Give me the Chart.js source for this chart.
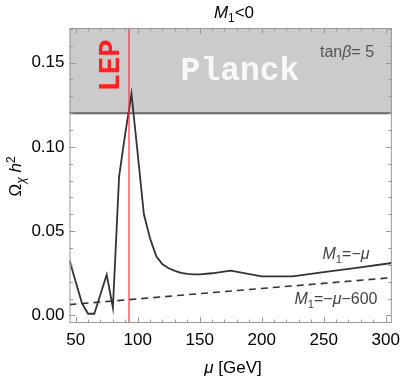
<!DOCTYPE html>
<html><head><meta charset="utf-8">
<script src="https://cdn.jsdelivr.net/npm/chart.js@4.4.1/dist/chart.umd.min.js"></script>
<style>html,body{margin:0;padding:0;background:#fff}#wrap{width:407px;height:378px;position:relative}</style>
</head><body><div id="wrap"><canvas id="c" width="407" height="378"></canvas></div>
<script>
// ---- data ----
const muSolid = [45,50,55,60,65,70,75,80,85,90,95,100,105,110,115,120,125,130,135,140,145,150,160,175,200,225,250,275,305];
const omegaSolid = [0.0327,0.020,0.0073,0.001,0.001,0.0126,0.0242,0.0046,0.0823,0.108,0.1315,0.096,0.060,0.0456,0.035,0.0303,0.028,0.0264,0.0252,0.0246,0.0244,0.0244,0.025,0.0266,0.0232,0.0232,0.0257,0.0281,0.0311];
const muDashed = [45,100,150,200,250,305];
const omegaDashed = [0.0064,0.0098,0.0129,0.0160,0.0190,0.0224];
const xTicks = [50,100,150,200,250,300];
const xMinorTicks = [60,70,80,90,110,120,130,140,160,170,180,190,210,220,230,240,260,270,280,290];
const yTicks = [0,0.05,0.10,0.15];
const yTickLabels = ['0.00','0.05','0.10','0.15'];
const yMinorTicks = [0.01,0.02,0.03,0.04,0.06,0.07,0.08,0.09,0.11,0.12,0.13,0.14,0.16,0.17];
const planckLimit = 0.12;
const lepBound = 93;

const SANS = '"Liberation Sans", Arial, sans-serif';
const MONO = '"Liberation Mono", "Courier New", monospace';

function drawRich(ctx, runs, x, y, align, size) {
  let total = 0;
  const parts = runs.map(r => {
    const s = r.shift ? size * 0.7 : size;
    const font = (r.italic ? 'italic ' : '') + s + 'px ' + SANS;
    ctx.font = font;
    const w = ctx.measureText(r.t).width;
    total += w;
    return {r, s, font, w};
  });
  let cx = align === 'center' ? x - total / 2 : (align === 'right' ? x - total : x);
  ctx.textAlign = 'left';
  ctx.textBaseline = 'alphabetic';
  parts.forEach(p => {
    ctx.font = p.font;
    let dy = 0;
    if (p.r.shift === 'sub') dy = size * 0.25;
    if (p.r.shift === 'sup') dy = -size * 0.38;
    ctx.fillText(p.r.t, cx, y + dy);
    cx += p.w;
  });
}

const decor = {
  id: 'decor',
  beforeDatasetsDraw(chart) {
    const {ctx, chartArea: a, scales: {x, y}} = chart;
    const yb = y.getPixelForValue(planckLimit);
    ctx.save();
    ctx.fillStyle = '#cbcbcc';
    ctx.fillRect(a.left, a.top, a.right - a.left, yb - a.top);
    ctx.strokeStyle = '#666666';
    ctx.lineWidth = 2;
    ctx.beginPath(); ctx.moveTo(a.left, yb); ctx.lineTo(a.right, yb); ctx.stroke();
    // Planck text
    ctx.fillStyle = '#f8f8f8';
    ctx.font = 'bold 33px ' + MONO;
    ctx.textAlign = 'center'; ctx.textBaseline = 'alphabetic';
    ctx.fillText('Planck', 240, 80);
    // tan beta
    ctx.fillStyle = '#555555';
    drawRich(ctx, [{t:'tan'},{t:'β', italic:true},{t:'= 5'}], 347, 57, 'center', 16);
    ctx.restore();
  },
  afterDatasetsDraw(chart) {
    const {ctx, chartArea: a, scales: {x, y}} = chart;
    ctx.save();
    // LEP line
    const xl = x.getPixelForValue(lepBound);
    ctx.strokeStyle = '#ff3030'; ctx.lineWidth = 1.2;
    ctx.beginPath(); ctx.moveTo(xl, a.top); ctx.lineTo(xl, a.bottom); ctx.stroke();
    // LEP text
    ctx.save();
    ctx.translate(112, 65.5); ctx.rotate(-Math.PI / 2);
    ctx.fillStyle = '#ff2020'; ctx.font = 'bold 29px ' + MONO;
    ctx.textAlign = 'center'; ctx.textBaseline = 'middle';
    ctx.fillText('LEP', 0, 0);
    ctx.restore();
    // series labels
    ctx.fillStyle = '#444444';
    drawRich(ctx, [{t:'M', italic:true},{t:'1', shift:'sub'},{t:'=−'},{t:'μ', italic:true}], 346, 259, 'center', 16);
    drawRich(ctx, [{t:'M', italic:true},{t:'1', shift:'sub'},{t:'=−'},{t:'μ', italic:true},{t:'−600'}], 336, 304, 'center', 16);
    // frame
    ctx.strokeStyle = '#999999'; ctx.lineWidth = 1;
    ctx.strokeRect(a.left + 0.5, a.top + 0.5, a.right - a.left - 1, a.bottom - a.top - 1);
    ctx.beginPath();
    const tick = (px, len, vertical) => {
      if (vertical) {
        ctx.moveTo(Math.round(px) + 0.5, a.bottom); ctx.lineTo(Math.round(px) + 0.5, a.bottom - len);
        ctx.moveTo(Math.round(px) + 0.5, a.top); ctx.lineTo(Math.round(px) + 0.5, a.top + len);
      } else {
        ctx.moveTo(a.left, Math.round(px) + 0.5); ctx.lineTo(a.left + len, Math.round(px) + 0.5);
        ctx.moveTo(a.right, Math.round(px) + 0.5); ctx.lineTo(a.right - len, Math.round(px) + 0.5);
      }
    };
    xTicks.forEach(v => tick(x.getPixelForValue(v), 6, true));
    xMinorTicks.forEach(v => tick(x.getPixelForValue(v), 3.5, true));
    yTicks.forEach(v => tick(y.getPixelForValue(v), 6, false));
    yMinorTicks.forEach(v => tick(y.getPixelForValue(v), 3.5, false));
    ctx.stroke();
    // titles
    ctx.fillStyle = '#000000';
    drawRich(ctx, [{t:'M', italic:true},{t:'1', shift:'sub'},{t:'<0'}], 234, 18, 'center', 17);
    drawRich(ctx, [{t:'μ', italic:true},{t:' [GeV]'}], 233, 373, 'center', 17);
    ctx.save();
    ctx.translate(21, 176.5); ctx.rotate(-Math.PI / 2);
    drawRich(ctx, [{t:'Ω'},{t:'χ', italic:true, shift:'sub'},{t:' '},{t:'h', italic:true},{t:'2', shift:'sup'}], 0, 0, 'center', 17);
    ctx.restore();
    ctx.restore();
  }
};

new Chart(document.getElementById('c'), {
  type: 'line',
  data: {
    datasets: [
      {data: muSolid.map((m, i) => ({x: m, y: omegaSolid[i]})), borderColor: '#333333', borderWidth: 1.8, pointRadius: 0, tension: 0, fill: false},
      {data: muDashed.map((m, i) => ({x: m, y: omegaDashed[i]})), borderColor: '#333333', borderWidth: 1.6, borderDash: [7, 5], pointRadius: 0, tension: 0, fill: false}
    ]
  },
  options: {
    responsive: false, animation: false, devicePixelRatio: 1,
    layout: {padding: {left: 0, right: 8.5, top: 28, bottom: 0}},
    plugins: {legend: {display: false}, tooltip: {enabled: false}, title: {display: false}},
    scales: {
      x: {
        type: 'linear', min: 45, max: 305,
        afterBuildTicks: s => { s.ticks = xTicks.map(v => ({value: v})); },
        afterFit: s => { s.height = 55; },
        grid: {display: false, drawTicks: false}, border: {display: false},
        ticks: {color: '#000', font: {family: SANS, size: 17}, padding: 7, maxRotation: 0, autoSkip: false, callback: v => String(v)}
      },
      y: {
        type: 'linear', min: -0.0045, max: 0.1705,
        afterBuildTicks: s => { s.ticks = yTicks.map(v => ({value: v})); },
        afterFit: s => { s.width = 69.5; },
        grid: {display: false, drawTicks: false}, border: {display: false},
        ticks: {color: '#000', font: {family: SANS, size: 17}, padding: 5, autoSkip: false, callback: (v, i) => yTickLabels[i]}
      }
    }
  },
  plugins: [decor]
});
</script>
</body></html>
